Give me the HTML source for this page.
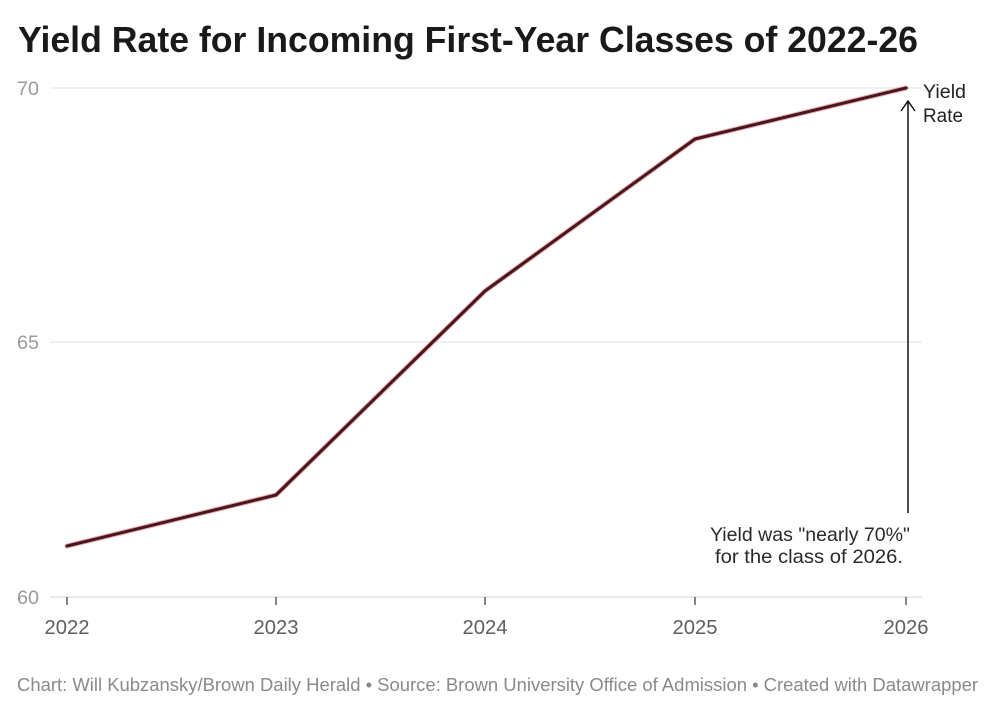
<!DOCTYPE html>
<html>
<head>
<meta charset="utf-8">
<style>
  html,body{margin:0;padding:0;background:#fff;}
  svg{display:block;}
  text{font-family:"Liberation Sans", Arial, sans-serif;}
</style>
</head>
<body>
<svg width="1000" height="712" viewBox="0 0 1000 712" xmlns="http://www.w3.org/2000/svg">
  <rect width="1000" height="712" fill="#fff"/>
  <!-- Title -->
  <text x="18" y="52" font-size="36" font-weight="bold" fill="#1a1a1a" textLength="900" lengthAdjust="spacingAndGlyphs">Yield Rate for Incoming First-Year Classes of 2022-26</text>

  <!-- gridlines -->
  <line x1="50" y1="88" x2="922" y2="88" stroke="#e2e2e2" stroke-width="1"/>
  <line x1="50" y1="342" x2="922" y2="342" stroke="#e2e2e2" stroke-width="1"/>
  <line x1="50" y1="597" x2="922" y2="597" stroke="#dcdcdc" stroke-width="1.2"/>

  <!-- y labels -->
  <g font-size="19.5" fill="#9a9a9a">
    <text x="17" y="95" textLength="22" lengthAdjust="spacingAndGlyphs">70</text>
    <text x="17" y="349" textLength="22" lengthAdjust="spacingAndGlyphs">65</text>
    <text x="17" y="604" textLength="22" lengthAdjust="spacingAndGlyphs">60</text>
  </g>

  <!-- x ticks -->
  <g stroke="#333" stroke-width="1.2">
    <line x1="67" y1="597" x2="67" y2="605"/>
    <line x1="276" y1="597" x2="276" y2="605"/>
    <line x1="485" y1="597" x2="485" y2="605"/>
    <line x1="695" y1="597" x2="695" y2="605"/>
    <line x1="906" y1="597" x2="906" y2="605"/>
  </g>
  <!-- x labels -->
  <g font-size="20" fill="#5e5e5e" text-anchor="middle">
    <text x="67" y="634" textLength="45" lengthAdjust="spacingAndGlyphs">2022</text>
    <text x="276" y="634" textLength="45" lengthAdjust="spacingAndGlyphs">2023</text>
    <text x="485" y="634" textLength="45" lengthAdjust="spacingAndGlyphs">2024</text>
    <text x="695" y="634" textLength="45" lengthAdjust="spacingAndGlyphs">2025</text>
    <text x="906" y="634" textLength="45" lengthAdjust="spacingAndGlyphs">2026</text>
  </g>

  <!-- data line -->
  <polyline points="67,546 276,495 485,291 695,139 906,88" fill="none" stroke="#c04050" stroke-opacity="0.45" stroke-width="5" stroke-linejoin="round" stroke-linecap="round"/>
  <polyline points="67,546 276,495 485,291 695,139 906,88" fill="none" stroke="#4a161a" stroke-width="3" stroke-linejoin="round" stroke-linecap="round"/>

  <!-- series label -->
  <g font-size="19" fill="#222">
    <text x="923" y="98" textLength="43" lengthAdjust="spacingAndGlyphs">Yield</text>
    <text x="923" y="122" textLength="40" lengthAdjust="spacingAndGlyphs">Rate</text>
  </g>

  <!-- arrow -->
  <line x1="908" y1="101" x2="908" y2="513" stroke="#111" stroke-width="1.5"/>
  <polyline points="901,111 908,101 915,111" fill="none" stroke="#111" stroke-width="1.5" stroke-linejoin="miter"/>

  <!-- annotation -->
  <g font-size="19.5" fill="#2a2a2a">
    <text x="710" y="541" textLength="200" lengthAdjust="spacingAndGlyphs">Yield was "nearly 70%"</text>
    <text x="715" y="563" textLength="188" lengthAdjust="spacingAndGlyphs">for the class of 2026.</text>
  </g>

  <!-- footer -->
  <text x="17" y="691" font-size="18.5" fill="#8a8a8a" textLength="961" lengthAdjust="spacingAndGlyphs">Chart: Will Kubzansky/Brown Daily Herald • Source: Brown University Office of Admission • Created with Datawrapper</text>
</svg>
</body>
</html>
